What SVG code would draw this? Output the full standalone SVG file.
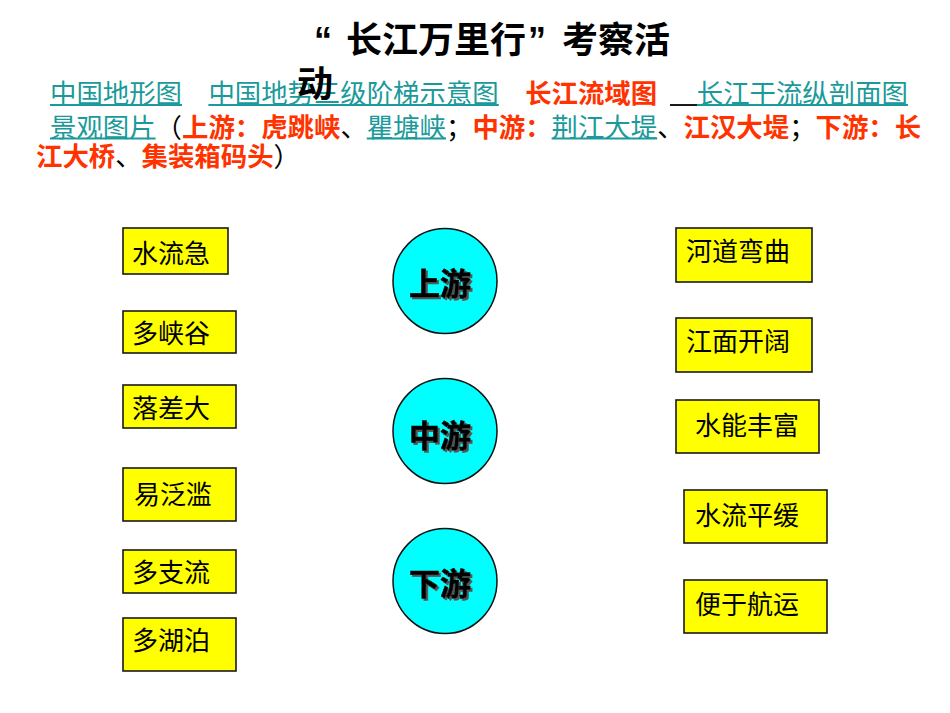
<svg xmlns="http://www.w3.org/2000/svg" width="950" height="713" viewBox="0 0 950 713">
<defs>
<filter id="shadow" x="-20%" y="-20%" width="140%" height="140%"><feDropShadow dx="2" dy="2" stdDeviation="0.6" flood-color="#555555" flood-opacity="1"/></filter>
</defs>
<style>
text{font-family:"Noto Sans CJK SC","Liberation Sans",sans-serif;}
.t{font-size:36px;font-weight:bold;fill:#000;}
.q{font-family:"Liberation Sans",sans-serif;font-size:36px;font-weight:bold;fill:#000;}
.ln{font-size:26.4px;}
.tl{fill:#1a9a9a;}
.rd{fill:#ff3300;font-weight:bold;}
.bk{fill:#000;}
.ul{stroke:#1a9a9a;stroke-width:1.8;}
.box{fill:#ffff00;stroke:#1a1a1a;stroke-width:1.6;}
.bt{font-size:26px;fill:#000;}
.cir{fill:#00ffff;stroke:#111;stroke-width:1.5;}
.ct{font-size:31px;font-weight:bold;text-anchor:middle;fill:#000;stroke:#000;stroke-width:0.6;filter:url(#shadow);}
</style>
<rect x="0" y="0" width="950" height="713" fill="#ffffff"/>
<g id="header">
<text class="ln" y="102.5"><tspan class="tl" x="50">中国地形图</tspan><tspan class="tl" x="208.4">中国地势三级阶梯示意图</tspan><tspan class="rd" x="525.2">长江流域图</tspan><tspan class="tl" x="696.8">长江干流纵剖面图</tspan></text>
<line class="ul" x1="50" y1="105" x2="182" y2="105"/>
<line class="ul" x1="208.4" y1="105" x2="498.8" y2="105"/>
<line x1="670" y1="105" x2="697" y2="105" stroke="#000" stroke-width="1.8"/>
<line class="ul" x1="697" y1="105" x2="908" y2="105"/>
<text class="ln" y="137"><tspan class="tl" x="50">景观图片</tspan><tspan class="bk" x="155.6">（</tspan><tspan class="rd" x="182">上游：虎跳峡</tspan><tspan class="bk" x="340.4">、</tspan><tspan class="tl" x="366.8">瞿塘峡</tspan><tspan class="bk" x="446">；</tspan><tspan class="rd" x="472.4">中游：</tspan><tspan class="tl" x="551.6">荆江大堤</tspan><tspan class="bk" x="657.2">、</tspan><tspan class="rd" x="683.6">江汉大堤</tspan><tspan class="bk" x="789.2">；</tspan><tspan class="rd" x="815.6">下游：长</tspan></text>
<line class="ul" x1="50" y1="138.5" x2="155.6" y2="138.5"/>
<line class="ul" x1="366.8" y1="138.5" x2="446" y2="138.5"/>
<line class="ul" x1="551.6" y1="138.5" x2="657.2" y2="138.5"/>
<text class="ln" y="166"><tspan class="rd" x="36">江大桥</tspan><tspan class="bk" x="115.2">、</tspan><tspan class="rd" x="141.6">集装箱码头</tspan><tspan class="bk" x="273.6">）</tspan></text>
</g>
<g id="title">
<text class="q" x="314" y="53">“</text>
<text class="t" x="346" y="53">长江万里行</text>
<text class="q" x="528" y="53">”</text>
<text class="t" x="562" y="53">考察活</text>
<text class="t" x="297" y="97">动</text>
</g>
<g id="connectors"></g>
<g id="left-1"><rect class="box" x="123" y="228" width="105" height="46"/><text class="bt" x="132" y="263">水流急</text></g>
<g id="left-2"><rect class="box" x="123" y="311" width="113" height="42"/><text class="bt" x="132" y="343">多峡谷</text></g>
<g id="left-3"><rect class="box" x="123" y="385" width="113" height="43"/><text class="bt" x="132" y="418">落差大</text></g>
<g id="left-4"><rect class="box" x="123" y="468" width="113" height="53"/><text class="bt" x="134" y="504">易泛滥</text></g>
<g id="left-5"><rect class="box" x="123" y="550" width="113" height="43"/><text class="bt" x="132" y="582">多支流</text></g>
<g id="left-6"><rect class="box" x="123" y="618" width="113" height="53"/><text class="bt" x="132" y="650">多湖泊</text></g>
<g id="upper"><ellipse class="cir" cx="445" cy="281" rx="52" ry="52.5"/><text class="ct" x="440" y="295">上游</text></g>
<g id="middle"><ellipse class="cir" cx="445" cy="431" rx="52" ry="52.5"/><text class="ct" x="440" y="447">中游</text></g>
<g id="lower"><ellipse class="cir" cx="445" cy="581" rx="52" ry="52.5"/><text class="ct" x="440" y="595">下游</text></g>
<g id="right-1"><rect class="box" x="676" y="228" width="136" height="54"/><text class="bt" x="686" y="261">河道弯曲</text></g>
<g id="right-2"><rect class="box" x="676" y="318" width="136" height="54"/><text class="bt" x="686" y="351">江面开阔</text></g>
<g id="right-3"><rect class="box" x="676" y="400" width="143" height="53"/><text class="bt" x="695" y="435">水能丰富</text></g>
<g id="right-4"><rect class="box" x="684" y="490" width="143" height="53"/><text class="bt" x="695" y="525">水流平缓</text></g>
<g id="right-5"><rect class="box" x="684" y="580" width="143" height="53"/><text class="bt" x="695" y="614">便于航运</text></g>
</svg>
